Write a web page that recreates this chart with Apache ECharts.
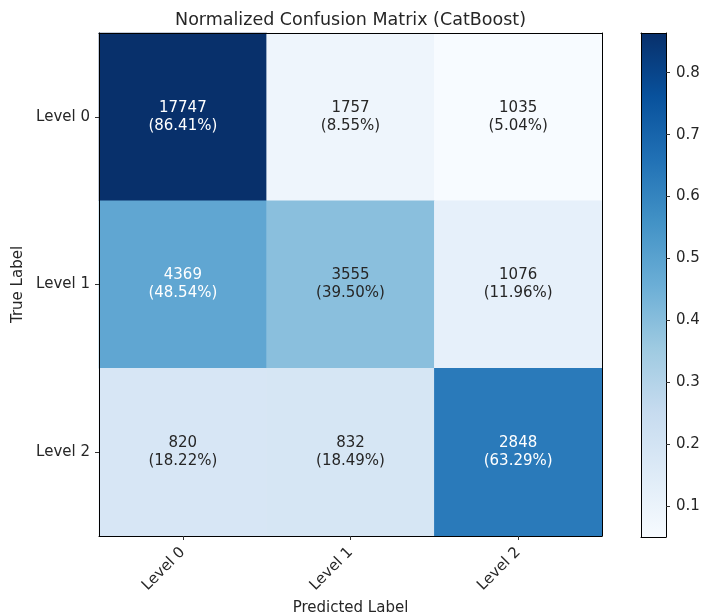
<!DOCTYPE html>
<html>
<head>
<meta charset="utf-8">
<script src="https://cdn.jsdelivr.net/npm/echarts@6/dist/echarts.min.js"></script>
<style>
  html, body { margin: 0; padding: 0; background: #fff; }
  #chart { width: 701px; height: 615px; }
</style>
</head>
<body>
<div id="chart"></div>
<script>
// Class labels (true rows, predicted columns)
const categories = ['Level 0', 'Level 1', 'Level 2'];

// Raw prediction counts per true class
const countsLevel0 = [17747, 1757, 1035];
const countsLevel1 = [4369, 3555, 1076];
const countsLevel2 = [820, 832, 2848];

// Row-normalized rates in percent
const rateLevel0 = [86.41, 8.55, 5.04];
const rateLevel1 = [48.54, 39.50, 11.96];
const rateLevel2 = [18.22, 18.49, 63.29];

// Colour bar tick labels
const colorbarTicks = [0.1, 0.2, 0.3, 0.4, 0.5, 0.6, 0.7, 0.8];

// matplotlib "Blues" colormap stops
const blues = ['#f7fbff', '#deebf7', '#c6dbef', '#9ecae1', '#6baed6',
               '#4292c6', '#2171b5', '#08519c', '#08306b'];

const counts = [countsLevel0, countsLevel1, countsLevel2];
const rates = [rateLevel0, rateLevel1, rateLevel2];

const allRates = rates.flat().map(r => r / 100);
const vMin = Math.min(...allRates);
const vMax = Math.max(...allRates);
const textThreshold = vMax / 2;

const FONT = 'DejaVu Sans';
const INK = '#262626';

// One heatmap cell per (predicted, true) pair, text colour by cell darkness
const cells = [];
for (let r = 0; r < 3; r++) {
  for (let c = 0; c < 3; c++) {
    const v = rates[r][c] / 100;
    cells.push({
      value: [c, r, v, counts[r][c]],
      label: { color: v > textThreshold ? '#ffffff' : INK }
    });
  }
}

const chart = echarts.init(document.getElementById('chart'));
chart.setOption({
  animation: false,
  backgroundColor: '#ffffff',
  textStyle: { fontFamily: FONT },
  title: {
    text: 'Normalized Confusion Matrix (CatBoost)',
    left: 'center',
    top: 6,
    textStyle: { fontFamily: FONT, fontSize: 17.5, fontWeight: 'normal', color: INK }
  },
  grid: [
    { left: 99, top: 33, width: 503, height: 503, outerBoundsMode: 'none', containLabel: false },
    { left: 641, top: 33, width: 25, height: 504, outerBoundsMode: 'none', containLabel: false }
  ],
  xAxis: [
    {
      gridIndex: 0, type: 'category', data: categories, position: 'bottom', z: 5,
      axisLine: { show: true, lineStyle: { color: '#000', width: 1 } },
      axisTick: { show: true, alignWithLabel: true, length: 4, lineStyle: { color: '#333' } },
      axisLabel: { rotate: 45, fontSize: 15, color: INK, margin: 14, fontFamily: FONT },
      splitLine: { show: false },
      name: 'Predicted Label', nameLocation: 'middle', nameGap: 62,
      nameTextStyle: { fontSize: 15, color: INK, fontFamily: FONT }
    },
    {
      gridIndex: 0, type: 'category', data: categories, position: 'top', z: 5,
      axisLine: { show: true, lineStyle: { color: '#000', width: 1 } },
      axisTick: { show: false }, axisLabel: { show: false }
    },
    {
      gridIndex: 1, type: 'category', data: ['bar'], position: 'bottom', z: 5,
      axisLine: { show: true, lineStyle: { color: '#000', width: 1 } },
      axisTick: { show: false }, axisLabel: { show: false }
    },
    {
      gridIndex: 1, type: 'category', data: ['bar'], position: 'top', z: 5,
      axisLine: { show: true, lineStyle: { color: '#000', width: 1 } },
      axisTick: { show: false }, axisLabel: { show: false }
    }
  ],
  yAxis: [
    {
      gridIndex: 0, type: 'category', data: categories, inverse: true, position: 'left', z: 5,
      axisLine: { show: true, lineStyle: { color: '#000', width: 1 } },
      axisTick: { show: true, alignWithLabel: true, length: 4, lineStyle: { color: '#333' } },
      axisLabel: { fontSize: 15, color: INK, margin: 9, fontFamily: FONT },
      name: 'True Label', nameLocation: 'middle', nameRotate: 90, nameGap: 72,
      nameTextStyle: { fontSize: 15, color: INK, fontFamily: FONT }
    },
    {
      gridIndex: 0, type: 'category', data: categories, inverse: true, position: 'right', z: 5,
      axisLine: { show: true, lineStyle: { color: '#000', width: 1 } },
      axisTick: { show: false }, axisLabel: { show: false }
    },
    {
      gridIndex: 1, type: 'value', position: 'right', z: 5,
      min: vMin, max: vMax, startValue: vMin,
      axisLine: { show: true, lineStyle: { color: '#000', width: 1 } },
      axisTick: { show: true, length: 4, customValues: colorbarTicks, lineStyle: { color: '#333' } },
      axisLabel: {
        show: true, customValues: colorbarTicks, fontSize: 15, color: INK, margin: 10,
        fontFamily: FONT, formatter: v => v.toFixed(1)
      },
      splitLine: { show: false }
    },
    {
      gridIndex: 1, type: 'value', position: 'left', z: 5,
      min: vMin, max: vMax,
      axisLine: { show: true, lineStyle: { color: '#000', width: 1 } },
      axisTick: { show: false }, axisLabel: { show: false }, splitLine: { show: false }
    }
  ],
  visualMap: {
    show: false,
    type: 'continuous',
    seriesIndex: 0,
    dimension: 2,
    min: vMin,
    max: vMax,
    inRange: { color: blues }
  },
  series: [
    {
      type: 'heatmap',
      xAxisIndex: 0, yAxisIndex: 0,
      data: cells,
      itemStyle: { borderWidth: 0 },
      label: {
        show: true,
        fontSize: 15,
        lineHeight: 18,
        fontFamily: FONT,
        formatter: p => p.value[3] + '\n(' + (p.value[2] * 100).toFixed(2) + '%)'
      },
      emphasis: { disabled: true }
    },
    {
      type: 'bar',
      xAxisIndex: 2, yAxisIndex: 2,
      data: [vMax],
      barWidth: '100%',
      silent: true,
      itemStyle: {
        color: new echarts.graphic.LinearGradient(0, 1, 0, 0,
          blues.map((c, i) => ({ offset: i / (blues.length - 1), color: c })))
      }
    }
  ]
});
</script>
</body>
</html>
